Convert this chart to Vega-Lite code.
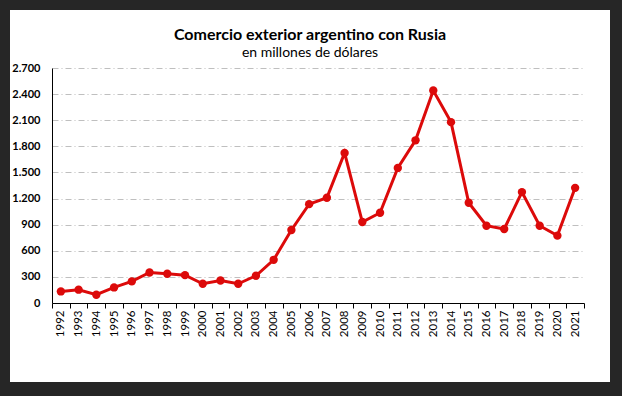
{
  "$schema": "https://vega.github.io/schema/vega-lite/v6.json",
  "width": 600,
  "height": 372,
  "autosize": "none",
  "padding": {"left": 10, "top": 10, "right": 12, "bottom": 14},
  "background": "#262626",
  "title": {
    "text": "Comercio exterior argentino con Rusia",
    "subtitle": "en millones de dólares",
    "anchor": "middle",
    "frame": "group",
    "offset": -50,
    "font": "Lato",
    "fontSize": 16,
    "fontWeight": "bold",
    "color": "#000000",
    "subtitleFont": "Lato",
    "subtitleFontSize": 14,
    "subtitleColor": "#000000",
    "subtitlePadding": 3
  },
  "config": {
    "view": {"fill": "white", "stroke": null},
    "locale": {"number": {"decimal": ",", "thousands": ".", "grouping": [3], "currency": ["$", ""]}},
    "axis": {"labelFont": "Lato", "labelColor": "#000000"}
  },
  "data": {
    "values": [
      {"year": "1992", "value": 133},
      {"year": "1993", "value": 153},
      {"year": "1994", "value": 95},
      {"year": "1995", "value": 179},
      {"year": "1996", "value": 248},
      {"year": "1997", "value": 351},
      {"year": "1998", "value": 336},
      {"year": "1999", "value": 320},
      {"year": "2000", "value": 221},
      {"year": "2001", "value": 259},
      {"year": "2002", "value": 221},
      {"year": "2003", "value": 313},
      {"year": "2004", "value": 496},
      {"year": "2005", "value": 839},
      {"year": "2006", "value": 1136},
      {"year": "2007", "value": 1209},
      {"year": "2008", "value": 1724},
      {"year": "2009", "value": 930},
      {"year": "2010", "value": 1037},
      {"year": "2011", "value": 1552},
      {"year": "2012", "value": 1869},
      {"year": "2013", "value": 2441},
      {"year": "2014", "value": 2078},
      {"year": "2015", "value": 1152},
      {"year": "2016", "value": 888},
      {"year": "2017", "value": 850},
      {"year": "2018", "value": 1274},
      {"year": "2019", "value": 888},
      {"year": "2020", "value": 774},
      {"year": "2021", "value": 1323}
    ]
  },
  "encoding": {
    "x": {
      "field": "year",
      "type": "ordinal",
      "scale": {"range": [42, 574], "paddingInner": 0, "paddingOuter": 0},
      "axis": {
        "title": null,
        "offset": -79,
        "grid": false,
        "tickBand": "extent",
        "tickSize": 5,
        "tickColor": "#000000",
        "domainColor": "#000000",
        "labelAngle": -90,
        "labelAlign": "right",
        "labelBaseline": "middle",
        "labelFontSize": 11.5,
        "labelPadding": 2
      }
    },
    "y": {
      "field": "value",
      "type": "quantitative",
      "scale": {"domain": [0, 2700], "range": [293, 58], "nice": false},
      "axis": {
        "title": null,
        "offset": -42,
        "values": [0, 300, 600, 900, 1200, 1500, 1800, 2100, 2400, 2700],
        "format": ",d",
        "ticks": false,
        "tickSize": 0,
        "labelPadding": 12,
        "labelFontSize": 11,
        "labelFontWeight": "bold",
        "domainColor": "#000000",
        "grid": true,
        "gridColor": "#bfbfbf",
        "gridDash": [6, 3, 1, 3],
        "gridWidth": 1
      }
    }
  },
  "layer": [
    {"mark": {"type": "line", "color": "#dc0a0a", "strokeWidth": 3}},
    {"mark": {"type": "circle", "color": "#dc0a0a", "size": 70, "opacity": 1}}
  ]
}
